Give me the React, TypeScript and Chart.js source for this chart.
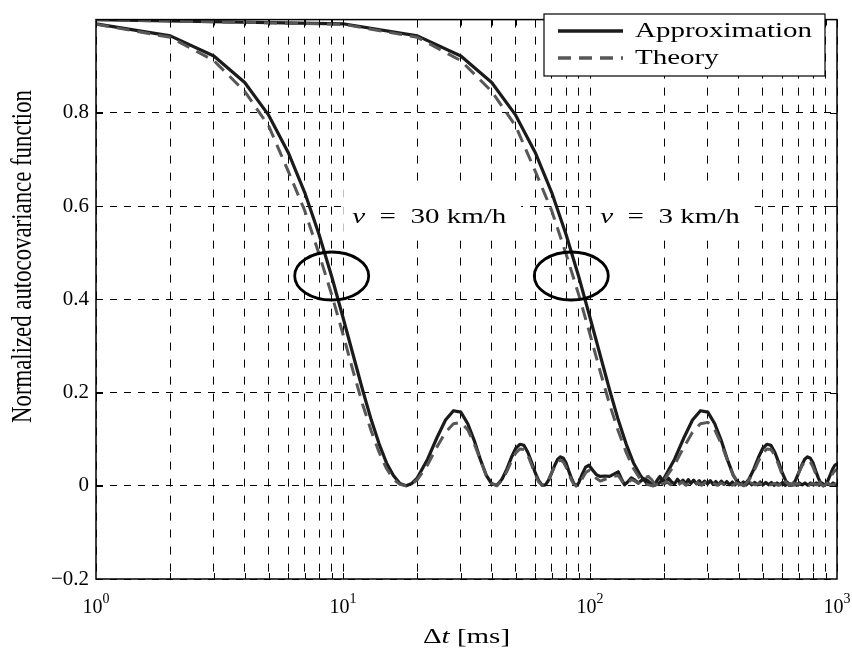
import React, { useEffect, useRef } from 'react';
import { Chart, registerables } from 'chart.js';

Chart.register(...registerables);

const FONT = '"Liberation Serif", "Times New Roman", serif';
const SX = 1.38;

// ---- axes / ticks ----
const X_GRID = [1, 2, 3, 4, 5, 6, 7, 8, 9, 10, 20, 30, 40, 50, 60, 70, 80, 90, 100, 200, 300, 400, 500, 600, 700, 800, 900, 1000];
const X_MAJOR = [1, 10, 100, 1000];
const X_MAJOR_EXP = ['0', '1', '2', '3'];
const Y_TICKS = [-0.2, 0, 0.2, 0.4, 0.6, 0.8, 1.0];
const X_TITLE_PARTS = ['\u0394', 't', ' [ms]'];
const Y_TITLE = 'Normalized autocovariance function';
const SERIES_LABELS = ['Approximation', 'Theory'];

// ---- annotations ----
const ANNOT_SPEED = ['30 km/h', '3 km/h'];
const ANNOT_X = [10.9, 110];
const ANNOT_Y = 0.563;
const ELLIPSE_X = [9, 84];
const ELLIPSE_Y = 0.45;

// ---- data: [Δt (ms), value] ----
const APPROX_30: [number, number][] = [
  [1, 0.991], [2, 0.965], [3, 0.922], [4, 0.865], [5, 0.795], [6, 0.715], [7, 0.629], [8, 0.539], [9, 0.449], [10, 0.361],
  [11, 0.28], [12, 0.206], [13, 0.142], [14, 0.09], [15, 0.049], [16, 0.022], [17, 0.005], [18, 0], [19, 0.005], [20, 0.017],
  [22, 0.057], [24, 0.103], [26, 0.141], [28, 0.161], [30, 0.158], [32, 0.133], [34, 0.097], [36, 0.056], [38, 0.023], [40, 0.004],
  [42, 0.001], [44, 0.014], [46, 0.035], [48, 0.06], [50, 0.08], [52, 0.089], [54, 0.087], [56, 0.072], [58, 0.051], [60, 0.028],
  [62, 0.011], [64, 0.001], [66, 0.002], [68, 0.012], [70, 0.028], [72, 0.044], [74, 0.057], [76, 0.062], [78, 0.059], [80, 0.049],
  [82, 0.032], [84, 0.017], [86, 0.005], [88, 0], [90, 0.006], [93, 0.025], [96, 0.04], [99, 0.044], [102, 0.035], [106, 0.024],
  [110, 0.02], [115, 0.021], [120, 0.02], [125, 0.025], [130, 0.03], [134, 0.015], [138, 0.002], [142, 0.008], [147, 0.017], [152, 0.012],
  [157, 0.006], [162, 0.012], [167, 0.015], [172, 0.01], [177, 0.004], [182, 0.001], [187, 0.012], [192, 0.02], [197, 0.01], [202, 0.006],
  [208, 0.016], [214, 0.008], [220, 0.004], [226, 0.014], [232, 0.006], [238, 0.012], [244, 0.004], [250, 0.013], [256, 0.005], [263, 0.012],
  [270, 0.004], [277, 0.011], [284, 0.003], [291, 0.01], [299, 0.004], [307, 0.011], [315, 0.003], [323, 0.009], [331, 0.002], [340, 0.01],
  [349, 0.003], [358, 0.009], [367, 0.002], [377, 0.008], [387, 0.002], [397, 0.009], [407, 0.003], [418, 0.008], [429, 0.002], [440, 0.008],
  [452, 0.002], [464, 0.007], [476, 0.002], [489, 0.008], [502, 0.002], [515, 0.007], [529, 0.002], [543, 0.007], [557, 0.001], [572, 0.006],
  [587, 0.002], [602, 0.007], [618, 0.001], [634, 0.006], [651, 0.002], [668, 0.006], [686, 0.001], [704, 0.006], [723, 0.002], [742, 0.006],
  [762, 0.001], [782, 0.006], [803, 0.002], [824, 0.006], [846, 0.001], [868, 0.006], [891, 0.002], [915, 0.006], [939, 0.001], [964, 0.006],
  [990, 0.002], [1000, 0.004],
];

const THEORY_30: [number, number][] = [
  [1, 0.99], [2, 0.962], [3, 0.912], [4, 0.846], [5, 0.772], [6, 0.675], [7, 0.59], [8, 0.497], [9, 0.41], [10, 0.325],
  [11, 0.245], [12, 0.175], [13, 0.118], [14, 0.072], [15, 0.037], [16, 0.014], [17, 0.003], [18, 0], [19, 0.004], [20, 0.013],
  [22, 0.045], [24, 0.083], [26, 0.115], [28, 0.133], [30, 0.136], [32, 0.12], [34, 0.09], [36, 0.055], [38, 0.022], [40, 0.005],
  [42, 0], [44, 0.012], [46, 0.03], [48, 0.052], [50, 0.07], [52, 0.079], [54, 0.078], [56, 0.066], [58, 0.045], [60, 0.024],
  [62, 0.008], [64, 0.001], [66, 0.003], [68, 0.013], [70, 0.028], [72, 0.042], [74, 0.052], [76, 0.055], [78, 0.051], [80, 0.04],
  [82, 0.026], [84, 0.013], [86, 0.004], [88, 0], [90, 0.002], [93, 0.015], [96, 0.028], [99, 0.033], [102, 0.028], [106, 0.016],
  [110, 0.01], [115, 0.014], [120, 0.017], [125, 0.02], [130, 0.022], [134, 0.012], [138, 0.002], [142, 0.006], [147, 0.013], [152, 0.01],
  [157, 0.005], [162, 0.014], [167, 0.018], [172, 0.02], [177, 0.014], [182, 0.005], [187, 0.001], [192, 0.008], [197, 0.004], [204, 0.009],
  [212, 0.002], [220, 0.008], [228, 0.002], [236, 0.008], [245, 0.001], [254, 0.007], [263, 0.002], [273, 0.007], [283, 0.001], [293, 0.007],
  [304, 0.002], [315, 0.006], [327, 0.001], [339, 0.006], [351, 0.002], [364, 0.006], [377, 0.001], [391, 0.006], [405, 0.002], [420, 0.005],
  [435, 0.001], [451, 0.006], [467, 0.002], [484, 0.005], [502, 0.001], [520, 0.005], [539, 0.002], [558, 0.005], [578, 0.001], [599, 0.005],
  [621, 0.002], [643, 0.005], [666, 0.001], [690, 0.005], [715, 0.002], [741, 0.004], [768, 0.001], [796, 0.005], [825, 0.002], [855, 0.004],
  [886, 0.001], [918, 0.004], [951, 0.002], [985, 0.004], [1000, 0.003],
];

const APPROX_3: [number, number][] = [
  [1, 1], [10, 0.991], [20, 0.965], [30, 0.922], [40, 0.865], [50, 0.795], [60, 0.715], [70, 0.629], [80, 0.539], [90, 0.449],
  [100, 0.361], [110, 0.28], [120, 0.206], [130, 0.142], [140, 0.09], [150, 0.049], [160, 0.022], [170, 0.005], [180, 0], [190, 0.005],
  [200, 0.017], [220, 0.057], [240, 0.103], [260, 0.141], [280, 0.161], [300, 0.158], [320, 0.133], [340, 0.097], [360, 0.056], [380, 0.023],
  [400, 0.004], [420, 0.001], [440, 0.014], [460, 0.035], [480, 0.06], [500, 0.08], [520, 0.089], [540, 0.087], [560, 0.072], [580, 0.051],
  [600, 0.028], [620, 0.011], [640, 0.001], [660, 0.002], [680, 0.012], [700, 0.028], [720, 0.044], [740, 0.057], [760, 0.062], [780, 0.059],
  [800, 0.049], [820, 0.032], [840, 0.017], [860, 0.005], [880, 0], [900, 0.003], [920, 0.012], [940, 0.024], [960, 0.036], [980, 0.044],
  [1000, 0.047],
];

const THEORY_3: [number, number][] = [
  [1, 1], [10, 0.99], [20, 0.962], [30, 0.912], [40, 0.846], [50, 0.772], [60, 0.675], [70, 0.59], [80, 0.497], [90, 0.41],
  [100, 0.325], [110, 0.245], [120, 0.175], [130, 0.118], [140, 0.072], [150, 0.037], [160, 0.014], [170, 0.003], [180, 0], [190, 0.004],
  [200, 0.013], [220, 0.045], [240, 0.083], [260, 0.115], [280, 0.133], [300, 0.136], [320, 0.12], [340, 0.09], [360, 0.055], [380, 0.022],
  [400, 0.005], [420, 0], [440, 0.012], [460, 0.03], [480, 0.052], [500, 0.07], [520, 0.079], [540, 0.078], [560, 0.066], [580, 0.045],
  [600, 0.024], [620, 0.008], [640, 0.001], [660, 0.003], [680, 0.013], [700, 0.028], [720, 0.042], [740, 0.052], [760, 0.055], [780, 0.051],
  [800, 0.04], [820, 0.026], [840, 0.013], [860, 0.004], [880, 0], [900, 0.002], [920, 0.009], [940, 0.018], [960, 0.026], [980, 0.032],
  [1000, 0.035],
];

const APPROX_COLOR = '#1b1b1b';
const THEORY_COLOR = '#575757';
const THEORY_DASH = [13, 8];

const toPoints = (arr: [number, number][]) => arr.map(([x, y]) => ({ x, y }));

function fmtY(v: number) {
  if (Math.abs(v - 1) < 1e-9) return null;
  if (Math.abs(v) < 1e-9) return '0';
  return (v < 0 ? '\u2212' : '') + Math.abs(v).toFixed(1);
}

type Part = { text: string; italic?: boolean };

function drawParts(ctx: CanvasRenderingContext2D, parts: Part[], x: number, y: number, size: number, sx: number, align: 'left' | 'center') {
  ctx.save();
  ctx.textBaseline = 'alphabetic';
  ctx.textAlign = 'left';
  const fontOf = (p: Part) => `${p.italic ? 'italic ' : ''}${size}px ${FONT}`;
  const widths = parts.map((p) => {
    ctx.font = fontOf(p);
    return ctx.measureText(p.text).width;
  });
  const total = widths.reduce((a, b) => a + b, 0);
  ctx.translate(x, y);
  ctx.scale(sx, 1);
  let cx = align === 'center' ? -total / 2 : 0;
  parts.forEach((p, i) => {
    ctx.font = fontOf(p);
    ctx.fillText(p.text, cx, 0);
    cx += widths[i];
  });
  ctx.restore();
  return total * sx;
}

const decorPlugin = {
  id: 'decor',
  afterDraw(chart: any) {
    const { ctx, chartArea: a, scales } = chart;
    const xs = scales.x;
    const ys = scales.y;
    ctx.save();
    ctx.fillStyle = '#000';
    ctx.strokeStyle = '#000';

    // ellipses
    ctx.lineWidth = 2.8;
    ctx.setLineDash([]);
    ELLIPSE_X.forEach((ex) => {
      ctx.beginPath();
      ctx.ellipse(xs.getPixelForValue(ex), ys.getPixelForValue(ELLIPSE_Y), 37, 24, 0, 0, Math.PI * 2);
      ctx.stroke();
    });

    // annotation texts with white background
    ANNOT_SPEED.forEach((t, i) => {
      const px = xs.getPixelForValue(ANNOT_X[i]);
      const py = ys.getPixelForValue(ANNOT_Y);
      const parts = [{ text: 'v', italic: true }, { text: '  =  ' + t }];
      ctx.save();
      let w = 0;
      parts.forEach((p) => {
        ctx.font = `${p.italic ? 'italic ' : ''}21px ${FONT}`;
        w += ctx.measureText(p.text).width;
      });
      ctx.restore();
      w *= SX;
      ctx.fillStyle = '#fff';
      ctx.fillRect(px - 9, py - 42, w + 24, 52);
      ctx.fillStyle = '#000';
      drawParts(ctx, parts, px, py, 21, SX, 'left');
    });

    // box
    ctx.lineWidth = 1.5;
    ctx.strokeStyle = '#000';
    ctx.strokeRect(a.left, a.top, a.right - a.left, a.bottom - a.top);

    // inner tick marks
    ctx.lineWidth = 1;
    ctx.beginPath();
    X_GRID.forEach((v) => {
      if (v <= 1 || v >= 1000) return;
      const px = Math.round(xs.getPixelForValue(v)) + 0.5;
      ctx.moveTo(px, a.bottom);
      ctx.lineTo(px, a.bottom - 6);
      ctx.moveTo(px, a.top);
      ctx.lineTo(px, a.top + 6);
    });
    Y_TICKS.forEach((v) => {
      if (v <= -0.2 || v >= 1.0) return;
      const py = Math.round(ys.getPixelForValue(v)) + 0.5;
      ctx.moveTo(a.left, py);
      ctx.lineTo(a.left + 7, py);
      ctx.moveTo(a.right, py);
      ctx.lineTo(a.right - 7, py);
    });
    ctx.stroke();

    // x tick labels 10^n
    ctx.fillStyle = '#000';
    X_MAJOR.forEach((v, i) => {
      const px = xs.getPixelForValue(v);
      ctx.textAlign = 'left';
      ctx.textBaseline = 'alphabetic';
      ctx.font = `20px ${FONT}`;
      const w10 = ctx.measureText('10').width;
      ctx.font = `14px ${FONT}`;
      const we = ctx.measureText(X_MAJOR_EXP[i]).width;
      const left = px - (w10 + we) / 2;
      ctx.font = `20px ${FONT}`;
      ctx.fillText('10', left, a.bottom + 34);
      ctx.font = `14px ${FONT}`;
      ctx.fillText(X_MAJOR_EXP[i], left + w10, a.bottom + 24);
    });

    // x title
    drawParts(
      ctx,
      [{ text: X_TITLE_PARTS[0] }, { text: X_TITLE_PARTS[1], italic: true }, { text: X_TITLE_PARTS[2] }],
      (a.left + a.right) / 2,
      a.bottom + 64,
      21,
      SX,
      'center'
    );

    // y title
    ctx.save();
    ctx.translate(23, 256.5);
    ctx.scale(1.28, 1);
    ctx.rotate(-Math.PI / 2);
    ctx.font = `22.8px ${FONT}`;
    ctx.textAlign = 'center';
    ctx.textBaseline = 'middle';
    ctx.fillText(Y_TITLE, 0, 0);
    ctx.restore();

    // legend
    const items: any[] = [];
    const seen = new Set<string>();
    chart.data.datasets.forEach((ds: any) => {
      if (!seen.has(ds.label)) {
        seen.add(ds.label);
        items.push(ds);
      }
    });
    items.sort((p, q) => SERIES_LABELS.indexOf(p.label) - SERIES_LABELS.indexOf(q.label));
    const lx = 544, ly = 14, lw = 281, lh = 62;
    ctx.fillStyle = '#fff';
    ctx.fillRect(lx, ly, lw, lh);
    ctx.lineWidth = 1.2;
    ctx.strokeStyle = '#000';
    ctx.strokeRect(lx, ly, lw, lh);
    items.forEach((ds, i) => {
      const yy = ly + 17 + i * 27;
      ctx.save();
      ctx.strokeStyle = ds.borderColor;
      ctx.lineWidth = ds.borderWidth + 0.4;
      ctx.setLineDash(ds.borderDash || []);
      ctx.beginPath();
      ctx.moveTo(lx + 14, yy);
      ctx.lineTo(lx + 79, yy);
      ctx.stroke();
      ctx.restore();
      ctx.fillStyle = '#000';
      drawParts(ctx, [{ text: ds.label }], lx + 91, yy + 6, 21, SX, 'left');
    });

    ctx.restore();
  },
};

export default function App() {
  const ref = useRef<HTMLCanvasElement | null>(null);

  useEffect(() => {
    const canvas = ref.current;
    if (!canvas) return;
    const lineBase = {
      pointRadius: 0,
      pointHoverRadius: 0,
      fill: false,
      tension: 0,
      borderJoinStyle: 'round',
      borderCapStyle: 'butt',
    };
    const chart = new Chart(canvas, {
      type: 'line',
      data: {
        datasets: [
          { ...lineBase, label: SERIES_LABELS[0], data: toPoints(APPROX_30), borderColor: APPROX_COLOR, borderWidth: 3.2, order: 1 },
          { ...lineBase, label: SERIES_LABELS[0], data: toPoints(APPROX_3), borderColor: APPROX_COLOR, borderWidth: 3.2, order: 1 },
          { ...lineBase, label: SERIES_LABELS[1], data: toPoints(THEORY_30), borderColor: THEORY_COLOR, borderWidth: 3, borderDash: THEORY_DASH, order: 0 },
          { ...lineBase, label: SERIES_LABELS[1], data: toPoints(THEORY_3), borderColor: THEORY_COLOR, borderWidth: 3, borderDash: THEORY_DASH, order: 0 },
        ] as any,
      },
      options: {
        responsive: false,
        animation: false,
        devicePixelRatio: 1,
        events: [],
        layout: { padding: { top: 2, right: 15, left: 0, bottom: 0 } },
        plugins: { legend: { display: false }, tooltip: { enabled: false }, title: { display: false } },
        scales: {
          x: {
            type: 'logarithmic',
            min: 1,
            max: 1000,
            afterBuildTicks: (s: any) => {
              s.ticks = X_GRID.map((v) => ({ value: v }));
            },
            afterFit: (s: any) => {
              s.height = 76;
            },
            ticks: { display: false },
            grid: { color: '#000', lineWidth: 1, drawTicks: false },
            border: { display: false, dash: [8, 9] },
            title: { display: false, text: X_TITLE_PARTS.join('') },
          },
          y: {
            type: 'linear',
            min: -0.2,
            max: 1.0,
            afterBuildTicks: (s: any) => {
              s.ticks = Y_TICKS.map((v) => ({ value: v }));
            },
            afterFit: (s: any) => {
              s.width = 96;
            },
            ticks: {
              color: '#000',
              padding: 7,
              font: { family: FONT, size: 21 },
              callback: (v: any) => fmtY(Number(v)),
            },
            grid: { color: '#000', lineWidth: 1, drawTicks: false },
            border: { display: false, dash: [7, 7] },
            title: { display: false, text: Y_TITLE },
          },
        },
      } as any,
      plugins: [decorPlugin],
    });
    return () => chart.destroy();
  }, []);

  return (
    <div style={{ position: 'fixed', left: 0, top: 0, width: 852, height: 655, background: '#fff' }}>
      <canvas ref={ref} width={852} height={655} style={{ display: 'block', width: 852, height: 655 }} />
    </div>
  );
}
